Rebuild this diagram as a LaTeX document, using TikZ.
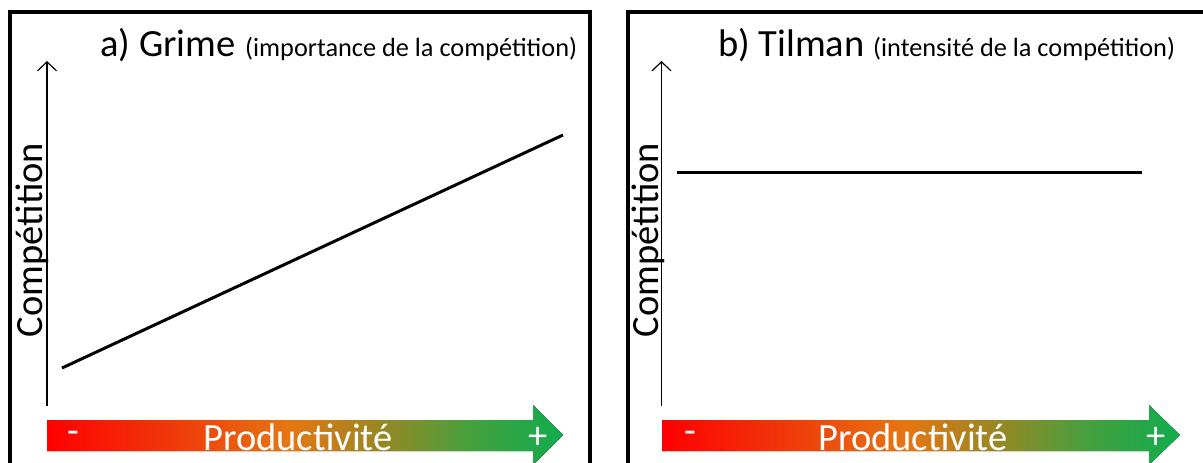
\documentclass[tikz,border=0pt]{standalone}
\usepackage{fontspec}
\setmainfont{Carlito}
\usetikzlibrary{arrows.meta}

\definecolor{prodred}{RGB}{255,0,0}
\definecolor{prodredorange}{RGB}{240,52,10}
\definecolor{prodorange}{RGB}{230,118,18}
\definecolor{prodolive}{RGB}{150,136,36}
\definecolor{prodgreen}{RGB}{70,160,62}
\definecolor{prodend}{RGB}{16,172,78}
% the path covers 25bp to 75bp of the shading
\pgfdeclarehorizontalshading{prodshade}{100bp}{color(0bp)=(prodred); color(25bp)=(prodred); color(36bp)=(prodredorange); color(48.5bp)=(prodorange); color(57.5bp)=(prodolive); color(66bp)=(prodgreen); color(75bp)=(prodend); color(100bp)=(prodend)}

\newcommand{\titlefont}{\fontsize{38.5}{42}\selectfont}
\newcommand{\subfont}{\fontsize{26.3}{30}\selectfont}
\newcommand{\labelfont}{\fontsize{38.5}{42}\selectfont}

\begin{document}
\begin{tikzpicture}[x=1pt,y=-1pt]
        % Define styles for shapes
        \tikzstyle{panel} = [draw, line width=4pt]
        \tikzstyle{axis} = [draw, line width=1.2pt, -{Straight Barb[length=9pt,width=19pt]}]
        \tikzstyle{trend} = [draw, line width=3pt]
        \tikzstyle{prodarrow} = [shading=prodshade]
        \tikzstyle{titletext} = [anchor=base west, inner sep=0pt, font=\titlefont]
        \tikzstyle{subtext} = [anchor=base west, inner sep=0pt, font=\subfont]
        \tikzstyle{signlabel} = [text=white, font=\labelfont, inner sep=0pt]
        \tikzstyle{axislabel} = [font=\labelfont, inner sep=0pt, anchor=base]

        \clip (0,0) rectangle (1203,463);

        % Panel a) Grime
        \draw[panel] (10,12) rectangle (590,490);
        \node[titletext] (titleA) at (100,56) {a) Grime};
        \node[subtext] (subA) at (245,56) {(importance de la compétition)};
        \coordinate (originA) at (47,406);
        \coordinate (topA) at (47,61);
        \draw[axis] (originA) -- (topA);
        \node[axislabel, rotate=90] (compA) at (42,240) {Compétition};
        \coordinate (lowA) at (62,368);
        \coordinate (highA) at (563,135);
        \draw[trend] (lowA) -- (highA);
        \fill[prodarrow] (47,420) -- (533,420) -- (533,405) -- (563,435) -- (533,465) -- (533,451) -- (47,451) -- cycle;
        \node[axislabel, text=white] (prodA) at (298,450) {Productivité};
        \node[signlabel] (minusA) at (73,437) {-};
        \node[signlabel] (plusA) at (538,438) {+};

        % Panel b) Tilman
        \draw[panel] (627.5,12) rectangle (1220,490);
        \node[titletext] (titleB) at (718,56) {b) Tilman};
        \node[subtext] (subB) at (873,56) {(intensité de la compétition)};
        \coordinate (originB) at (661.5,406);
        \coordinate (topB) at (661.5,61);
        \draw[axis] (originB) -- (topB);
        \node[axislabel, rotate=90] (compB) at (658,240) {Compétition};
        \coordinate (lowB) at (677,172);
        \coordinate (highB) at (1142,172);
        \draw[trend] (lowB) -- (highB);
        \fill[prodarrow] (662,420) -- (1149,420) -- (1149,405) -- (1180,435) -- (1149,465) -- (1149,451) -- (662,451) -- cycle;
        \node[axislabel, text=white] (prodB) at (913,450) {Productivité};
        \node[signlabel] (minusB) at (690,437) {-};
        \node[signlabel] (plusB) at (1156,438) {+};
\end{tikzpicture}
\end{document}
